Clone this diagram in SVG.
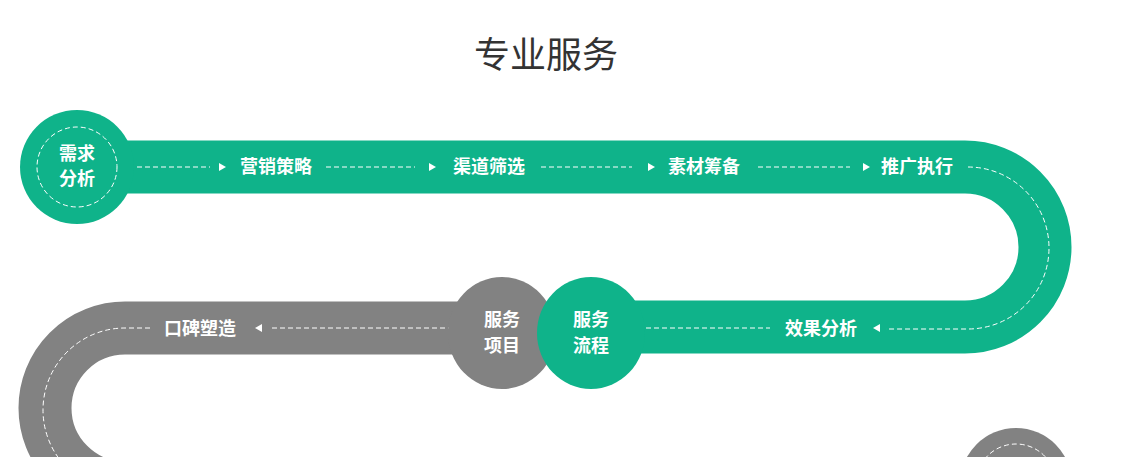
<svg xmlns="http://www.w3.org/2000/svg" width="1128" height="457" viewBox="0 0 1128 457">
<style>
.g{fill:#0fb38a}.k{fill:#828282}
.band{fill:none;stroke-width:53}
.d{fill:none;stroke:#fff;stroke-width:1;stroke-dasharray:5 3}
.t{font-family:"Noto Sans CJK SC",sans-serif;font-weight:bold;font-size:18px;fill:#fff;text-anchor:middle}
.a{fill:#fff}
</style>
<rect width="1128" height="457" fill="#fff"/>
<text x="546" y="68" font-family="Noto Sans CJK SC, sans-serif" font-size="36" fill="#333" text-anchor="middle">专业服务</text>
<g id="track">
<path class="band" stroke="#828282" d="M505 328 H125 A80 80 0 0 0 125 488"/>
<path class="band" stroke="#0fb38a" d="M100 167 H965 A80 80 0 0 1 965 327 H590"/>
</g>
<g id="connectors">
<path class="d" d="M137 167H210M326 167H415M541 167H632M758 167H850"/>
<path class="d" d="M968 167 A81 81 0 0 1 968 329 H886"/>
<path class="d" d="M646 328H770M272 328H450"/>
<path class="d" d="M150 328H125 A82 82 0 0 0 125 492"/>
<path class="a" d="M219 163l7 4-7 4zM429 163l7 4-7 4zM648 163l7 4-7 4zM863 163l7 4-7 4z"/>
<path class="a" d="M880 324l-7 4 7 4zM262 324l-7 4 7 4z"/>
</g>
<g id="n1"><circle class="g" cx="77" cy="167" r="57"/><circle class="d" cx="77" cy="167" r="40"/>
<text class="t" x="77" y="160">需求</text><text class="t" x="77" y="185">分析</text></g>
<g id="n2"><text class="t" x="276" y="173">营销策略</text></g>
<g id="n3"><text class="t" x="489" y="173">渠道筛选</text></g>
<g id="n4"><text class="t" x="704" y="173">素材筹备</text></g>
<g id="n5"><text class="t" x="917" y="173">推广执行</text></g>
<g id="n6"><text class="t" x="821" y="335">效果分析</text></g>
<g id="n7"><ellipse class="k" cx="502" cy="333" rx="54" ry="56"/>
<text class="t" x="502" y="326">服务</text><text class="t" x="502" y="352">项目</text></g>
<g id="n8"><ellipse class="g" cx="591" cy="333" rx="54" ry="56"/>
<text class="t" x="591" y="326">服务</text><text class="t" x="591" y="352">流程</text></g>
<g id="n9"><text class="t" x="200" y="335">口碑塑造</text></g>
<g id="n10"><circle class="k" cx="1016" cy="484" r="56"/><circle class="d" cx="1016" cy="484" r="40"/></g>
</svg>
